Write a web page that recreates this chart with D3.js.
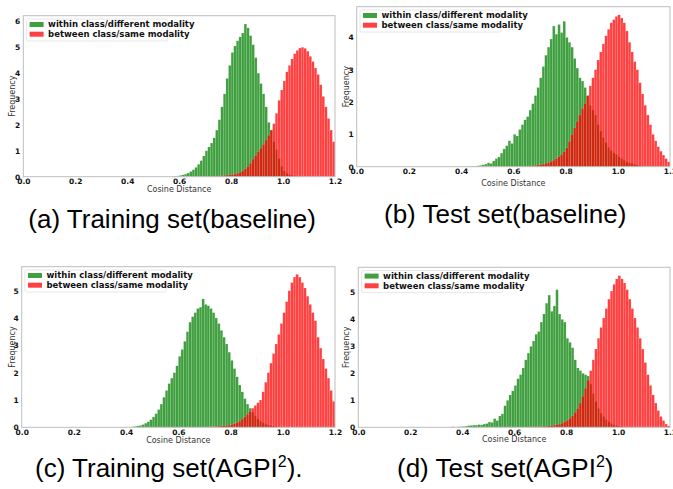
<!DOCTYPE html>
<html>
<head>
<meta charset="utf-8">
<script src="https://cdn.jsdelivr.net/npm/d3@7"></script>
<style>
  body { margin: 0; background: #fff; }
  svg { display: block; }
  .tick text { font-family: "DejaVu Sans", sans-serif; font-weight: bold; font-size: 7.5px; fill: #111; }
  .axis-label { font-family: "DejaVu Sans", sans-serif; font-size: 8px; fill: #333; }
  .legend-text { font-family: "DejaVu Sans", sans-serif; font-weight: bold; font-size: 8.5px; fill: #111; }
  .caption { font-family: "Liberation Sans", Arial, sans-serif; font-size: 26px; fill: #000; }
</style>
</head>
<body>
<svg id="chart" width="673" height="489"></svg>
<script>
// histogram bins are 0.01 wide, each series starts at its own first bin
var binWidth = 0.01;

// (a) training set, baseline
var trainBaseWithinStart = 0.58;
var trainBaseWithin = [0.02, 0.03, 0.05, 0.07, 0.1, 0.14, 0.2, 0.27, 0.36, 0.48, 0.62, 0.8, 1.0, 1.15, 1.3, 1.5, 1.8, 2.2, 2.7, 3.2, 3.8, 4.3, 4.8, 5.05, 5.25, 5.4, 5.55, 5.9, 5.75, 5.45, 5.1, 4.6, 4.0, 3.6, 3.2, 2.7, 2.1, 1.8, 1.35, 1.05, 0.7, 0.4, 0.22, 0.13, 0.08, 0.05, 0.03, 0.02];
var trainBaseBetweenStart = 0.70;
var trainBaseBetween = [0.01, 0.01, 0.015, 0.02, 0.025, 0.03, 0.04, 0.05, 0.06, 0.07, 0.08, 0.1, 0.13, 0.17, 0.22, 0.3, 0.4, 0.52, 0.68, 0.82, 0.96, 1.1, 1.25, 1.42, 1.6, 1.8, 2.05, 2.45, 2.95, 3.35, 3.7, 4.05, 4.3, 4.55, 4.75, 4.88, 4.97, 5.0, 4.96, 4.85, 4.65, 4.45, 4.2, 3.95, 3.55, 3.1, 2.7, 2.25, 1.8, 1.35];

// (b) test set, baseline
var testBaseWithinStart = 0.43;
var testBaseWithin = [0.01, 0.02, 0.01, 0.03, 0.04, 0.06, 0.08, 0.12, 0.1, 0.18, 0.25, 0.3, 0.42, 0.55, 0.65, 0.8, 0.72, 1.0, 0.95, 1.15, 1.3, 1.45, 1.55, 1.75, 1.95, 2.2, 2.45, 2.75, 3.1, 3.45, 3.7, 3.95, 4.35, 4.1, 4.4, 4.15, 4.5, 4.0, 3.85, 3.7, 3.35, 3.05, 2.75, 2.65, 2.45, 2.2, 1.9, 1.75, 1.6, 1.3, 1.1, 0.9, 0.75, 0.6, 0.5, 0.42, 0.38, 0.3, 0.25, 0.2, 0.15, 0.12, 0.1, 0.07, 0.05, 0.03, 0.02];
var testBaseBetweenStart = 0.62;
var testBaseBetween = [0.01, 0.01, 0.02, 0.02, 0.03, 0.03, 0.04, 0.05, 0.06, 0.08, 0.1, 0.13, 0.16, 0.2, 0.25, 0.31, 0.38, 0.46, 0.58, 0.78, 1.0, 1.2, 1.4, 1.6, 1.8, 1.95, 2.2, 2.5, 2.75, 3.0, 3.3, 3.55, 3.8, 4.05, 4.25, 4.45, 4.55, 4.65, 4.7, 4.6, 4.45, 4.2, 3.85, 3.55, 3.25, 3.0, 2.6, 2.25, 1.9, 1.6, 1.3, 1.0, 0.8, 0.62, 0.48, 0.36, 0.25, 0.15];

// (c) training set, AGPI^2
var trainAgpiWithinStart = 0.40;
var trainAgpiWithin = [0.01, 0.01, 0.02, 0.03, 0.05, 0.07, 0.1, 0.15, 0.2, 0.28, 0.38, 0.5, 0.65, 0.85, 1.1, 1.35, 1.6, 1.8, 2.0, 2.25, 2.6, 2.85, 3.15, 3.5, 3.85, 4.05, 4.2, 4.35, 4.4, 4.7, 4.5, 4.45, 4.35, 4.2, 4.0, 3.8, 3.55, 3.3, 3.05, 2.75, 2.45, 2.15, 1.85, 1.55, 1.3, 1.05, 0.85, 0.7, 0.55, 0.42, 0.3, 0.22, 0.16, 0.11, 0.08, 0.06, 0.05, 0.03, 0.02, 0.01];
var trainAgpiBetweenStart = 0.70;
var trainAgpiBetween = [0.01, 0.01, 0.02, 0.02, 0.03, 0.04, 0.05, 0.06, 0.07, 0.08, 0.1, 0.13, 0.17, 0.22, 0.3, 0.38, 0.48, 0.58, 0.7, 0.8, 0.9, 1.0, 1.3, 1.65, 2.0, 2.35, 2.7, 3.05, 3.4, 3.8, 4.2, 4.6, 5.0, 5.3, 5.5, 5.6, 5.5, 5.3, 5.1, 4.8, 4.5, 4.2, 3.9, 3.3, 2.9, 2.5, 2.15, 1.8, 1.35, 0.95];

// (d) test set, AGPI^2
var testAgpiWithinStart = 0.36;
var testAgpiWithin = [0.02, 0.01, 0.02, 0.02, 0.03, 0.04, 0.06, 0.07, 0.08, 0.08, 0.1, 0.09, 0.12, 0.14, 0.2, 0.18, 0.32, 0.25, 0.42, 0.5, 0.8, 1.0, 1.2, 1.35, 1.55, 1.8, 1.95, 2.2, 2.5, 2.75, 3.0, 3.2, 3.45, 3.55, 3.9, 4.2, 4.6, 4.9, 4.3, 4.5, 5.1, 4.2, 4.0, 3.9, 3.3, 3.15, 2.95, 2.5, 2.2, 2.1, 2.0, 1.95, 1.9, 1.6, 1.25, 0.95, 0.7, 0.52, 0.4, 0.28, 0.2, 0.14, 0.09, 0.06, 0.04, 0.02, 0.01];
var testAgpiBetweenStart = 0.66;
var testAgpiBetween = [0.01, 0.01, 0.02, 0.02, 0.03, 0.03, 0.04, 0.05, 0.06, 0.08, 0.1, 0.12, 0.15, 0.2, 0.26, 0.33, 0.42, 0.55, 0.7, 0.9, 1.15, 1.45, 1.75, 2.1, 2.5, 2.9, 3.3, 3.7, 4.05, 4.4, 4.75, 5.05, 5.3, 5.5, 5.62, 5.5, 5.35, 5.1, 4.75, 4.4, 4.05, 3.7, 3.3, 2.9, 2.4, 1.95, 1.55, 1.2, 0.9, 0.62, 0.4, 0.25, 0.12, 0.05];

var xTicks = [0, 0.2, 0.4, 0.6, 0.8, 1.0, 1.2];
var yTicksA = [0, 1, 2, 3, 4, 5, 6];
var yTicksB = [0, 1, 2, 3, 4];
var yTicksC = [0, 1, 2, 3, 4, 5];
var yTicksD = [0, 1, 2, 3, 4, 5];

var legendLabels = ["within class/different modality", "between class/same modality"];
var captionsMain = ["(a) Training set(baseline)", "(b) Test set(baseline)", "(c) Training set(AGPI", "(d) Test set(AGPI"];
var captionsTail = ["", "", ").", ")"];

var colors = ["#008000", "#ff0000"];

// layout of the four panels
var panels = [
  { left: 23.3, right: 335, top: 15.7, bottom: 176.7, ymax: 6.22, yTicks: yTicksA, ylabX: 11.7, xlabY: 192, capX: 28.3, capY: 227.7,
    series: [[trainBaseWithinStart, trainBaseWithin], [trainBaseBetweenStart, trainBaseBetween]] },
  { left: 356.7, right: 670, top: 6.7, bottom: 166.7, ymax: 4.95, yTicks: yTicksB, ylabX: 346, xlabY: 186.3, capX: 384, capY: 222.7,
    series: [[testBaseWithinStart, testBaseWithin], [testBaseBetweenStart, testBaseBetween]] },
  { left: 21.7, right: 335, top: 266.7, bottom: 427.3, ymax: 5.88, yTicks: yTicksC, ylabX: 11.7, xlabY: 443, capX: 35, capY: 476.7,
    series: [[trainAgpiWithinStart, trainAgpiWithin], [trainAgpiBetweenStart, trainAgpiBetween]] },
  { left: 358.3, right: 670, top: 267.3, bottom: 427.3, ymax: 5.93, yTicks: yTicksD, ylabX: 346, xlabY: 442, capX: 397, capY: 476.7,
    series: [[testAgpiWithinStart, testAgpiWithin], [testAgpiBetweenStart, testAgpiBetween]] }
];

var svg = d3.select("#chart");

panels.forEach(function(p, pi) {
  var x = d3.scaleLinear().domain([0, 1.2]).range([p.left, p.right]);
  var y = d3.scaleLinear().domain([0, p.ymax]).range([p.bottom, p.top]);

  svg.append("clipPath").attr("id", "clip" + pi)
    .append("rect")
    .attr("x", p.left).attr("y", p.top)
    .attr("width", p.right - p.left).attr("height", p.bottom - p.top);

  var g = svg.append("g");

  //bars, green first, red drawn on top
  p.series.forEach(function(s, si) {
    var start = s[0];
    g.append("g").attr("clip-path", "url(#clip" + pi + ")")
      .selectAll("rect")
      .data(s[1])
      .enter()
      .append("rect")
      .attr("x", function(d, i) { return x(start + i * binWidth); })
      .attr("width", function(d, i) { return x(start + (i + 1) * binWidth) - x(start + i * binWidth); })
      .attr("y", function(d) { return y(d); })
      .attr("height", function(d) { return y(0) - y(d); })
      .attr("fill", colors[si])
      .attr("fill-opacity", 0.75)
      .attr("stroke", "#fff")
      .attr("stroke-opacity", 0.3)
      .attr("stroke-width", 0.4);
  });

  // frame
  g.append("rect")
    .attr("x", p.left).attr("y", p.top)
    .attr("width", p.right - p.left).attr("height", p.bottom - p.top)
    .attr("fill", "none").attr("stroke", "#bdbdbd").attr("stroke-width", 1);

  var xAxis = d3.axisBottom(x).tickValues(xTicks).tickSize(0).tickPadding(2).tickFormat(d3.format(".1f"));
  g.append("g").attr("transform", "translate(0," + p.bottom + ")").call(xAxis)
    .call(function(a) { a.select(".domain").remove(); });

  var yAxis = d3.axisLeft(y).tickValues(p.yTicks).tickSize(0).tickPadding(3).tickFormat(d3.format("d"));
  g.append("g").attr("transform", "translate(" + p.left + ",0)").call(yAxis)
    .call(function(a) { a.select(".domain").remove(); });

  g.append("text").attr("class", "axis-label")
    .attr("x", (p.left + p.right) / 2).attr("y", p.xlabY)
    .attr("text-anchor", "middle")
    .text("Cosine Distance");

  g.append("text").attr("class", "axis-label")
    .attr("transform", "translate(" + p.ylabX + "," + (p.top + p.bottom) / 2 + ") rotate(-90)")
    .attr("text-anchor", "middle")
    .attr("dy", "0.35em")
    .text("Frequency");

  // legend
  var lg = g.append("g").attr("transform", "translate(" + (p.left + 3.3) + "," + (p.top + 3.3) + ")");
  lg.append("rect")
    .attr("x", 0).attr("y", 0).attr("width", 141).attr("height", 22).attr("rx", 1.5)
    .attr("fill", "#fff").attr("fill-opacity", 0.8)
    .attr("stroke", "#e0e0e0").attr("stroke-width", 0.8);
  legendLabels.forEach(function(lab, li) {
    lg.append("rect")
      .attr("x", 3).attr("y", 3 + li * 9.7)
      .attr("width", 14).attr("height", 5)
      .attr("fill", colors[li]).attr("fill-opacity", 0.75);
    lg.append("text").attr("class", "legend-text")
      .attr("x", 21.5).attr("y", 8.3 + li * 9.7)
      .text(lab);
  });

  // caption
  var cap = svg.append("text").attr("class", "caption")
    .attr("x", p.capX).attr("y", p.capY);
  cap.append("tspan").text(captionsMain[pi]);
  if (captionsTail[pi] !== "") {
    cap.append("tspan").attr("font-size", "16px").attr("dy", -10).text("2");
    cap.append("tspan").attr("dy", 10).text(captionsTail[pi]);
  }
});
</script>
</body>
</html>
